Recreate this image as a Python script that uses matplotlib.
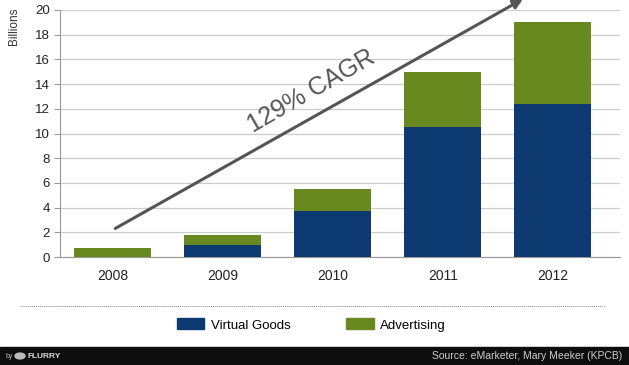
import matplotlib.pyplot as plt
from matplotlib.patches import Rectangle, Patch, Circle
from matplotlib.lines import Line2D
import numpy as np

plt.rcParams['font.family'] = ['Liberation Sans Narrow', 'Liberation Sans', 'DejaVu Sans']

years = ["2008", "2009", "2010", "2011", "2012"]
virtual_goods = [0.0, 1.0, 3.7, 10.5, 12.4]
advertising = [0.7, 0.8, 1.8, 4.5, 6.6]
yticks = [0, 2, 4, 6, 8, 10, 12, 14, 16, 18, 20]

blue = "#0e3a72"
green = "#67891f"

fig = plt.figure(figsize=(6.29, 3.65), dpi=100)
ax = fig.add_axes([60 / 629, 108 / 365, 560 / 629, 247 / 365])

x = np.arange(len(years))
ax.bar(x, virtual_goods, width=0.7, color=blue, zorder=3)
ax.bar(x, advertising, width=0.7, bottom=virtual_goods, color=green, zorder=3)

ax.set_xlim(-0.48, 4.61)
ax.set_ylim(0, 20)
ax.set_yticks(yticks)
ax.set_xticks(x)
ax.set_xticklabels(years, fontsize=10, color="#222222")
ax.tick_params(axis="y", labelsize=9.5, colors="#222222", length=4, color="#999999")
ax.tick_params(axis="x", length=0, pad=9)
ax.grid(axis="y", color="#cccccc", linewidth=0.9, zorder=0)
for s in ["top", "right"]:
    ax.spines[s].set_visible(False)
ax.spines["left"].set_color("#999999")
ax.spines["bottom"].set_color("#999999")
ax.set_ylabel("Billions", fontsize=8.5, color="#333333")
ax.yaxis.set_label_coords(-0.072, 0.935)

# CAGR arrow
ax.annotate("", xy=(3.75, 21.0), xytext=(0.0, 2.2),
            arrowprops=dict(arrowstyle="-|>", color="#555555", lw=2.2, mutation_scale=14),
            annotation_clip=False, zorder=5)
ax.text(1.8, 13.4, "129% CAGR", rotation=30, fontsize=18, color="#555555",
        ha="center", va="center", zorder=5)

# dotted separator
fig.add_artist(Line2D([20 / 629, 605 / 629], [59 / 365, 59 / 365], color="#888888",
                      linestyle=(0, (1, 1)), linewidth=0.7))

handles = [Patch(color=blue, label="Virtual Goods"), Patch(color=green, label="Advertising")]
fig.legend(handles=handles, loc="center", bbox_to_anchor=(0.495, 40 / 365), ncol=2,
           frameon=False, handlelength=2.1, handleheight=0.9, columnspacing=4.2,
           handletextpad=0.5, fontsize=9.5)

# footer bar
fig.add_artist(Rectangle((0, 0), 1, 18 / 365, transform=fig.transFigure,
                         color="#0d0d0d", zorder=0))
fig.text(622 / 629, 9 / 365, "Source: eMarketer, Mary Meeker (KPCB)", ha="right",
         va="center", fontsize=7.5, color="#cfcfcf")
fig.text(6 / 629, 9 / 365, "by", ha="left", va="center", fontsize=5, color="#bbbbbb")
fig.add_artist(Circle((20 / 629, 9 / 365), 0.008, transform=fig.transFigure,
                      color="#bbbbbb"))
fig.text(27 / 629, 9 / 365, "FLURRY", ha="left", va="center", fontsize=6,
         fontweight="bold", color="#dddddd")

fig.savefig("out.png", dpi=100)
